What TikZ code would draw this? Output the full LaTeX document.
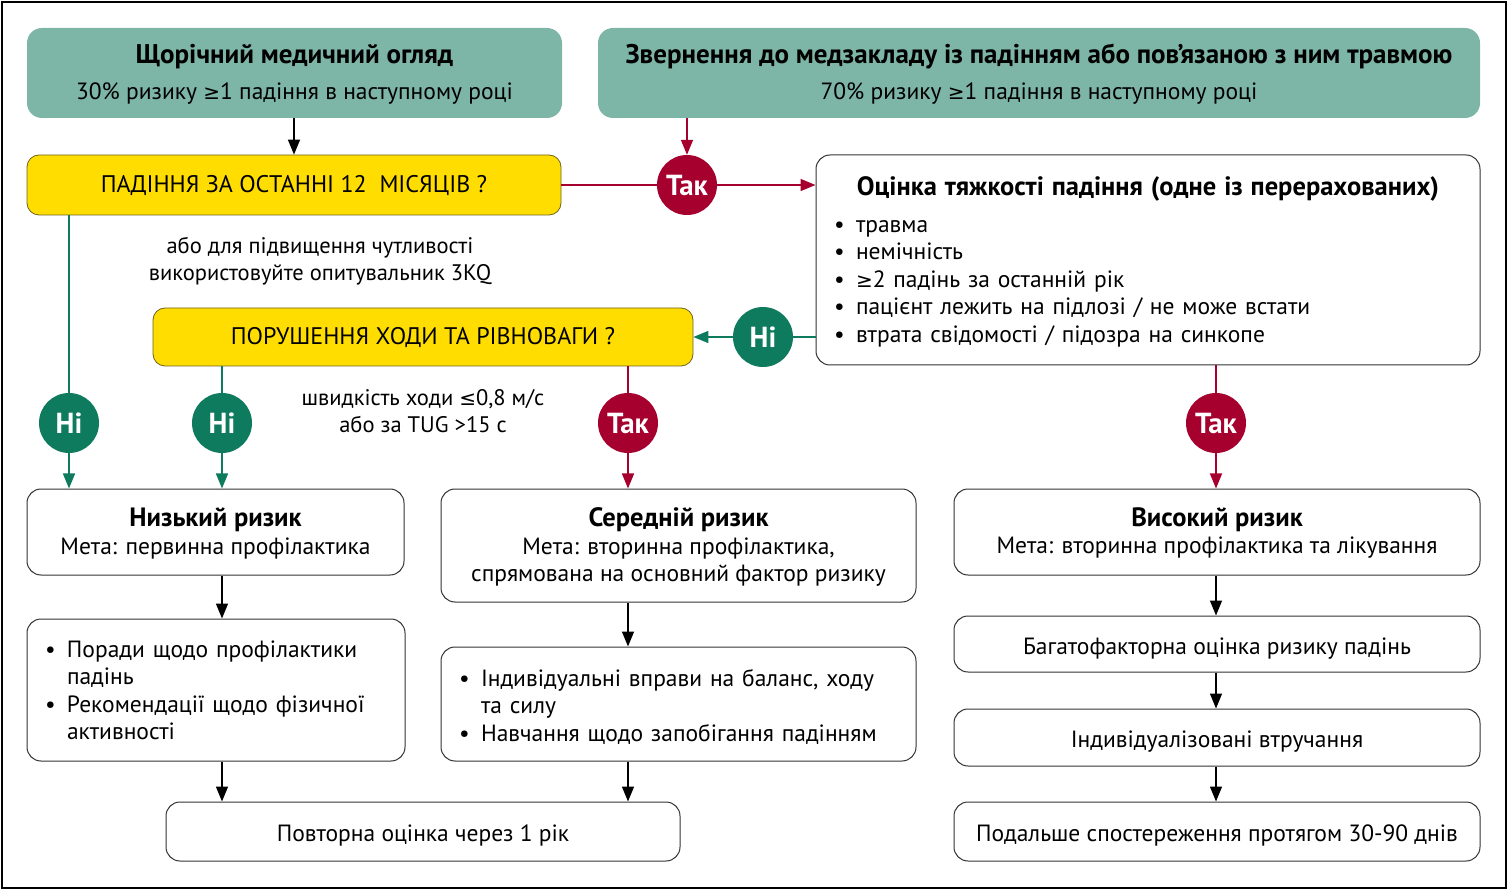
\documentclass[tikz,border=0pt]{standalone}
\usepackage{fontspec}
\setmainfont{PT Sans}
\newfontfamily\symf{DejaVu Sans}
\usetikzlibrary{arrows.meta,shapes.geometric}
\definecolor{tealc}{HTML}{7DB5A6}
\definecolor{yellowc}{HTML}{FFDD00}
\definecolor{yborder}{HTML}{6E6420}
\definecolor{redc}{HTML}{A5002E}
\definecolor{greenc}{HTML}{0E7A5E}
\definecolor{boxline}{HTML}{333333}
\newcommand{\gesym}{{\symf\fontsize{20}{20}\selectfont ≥}}
\newcommand{\lesym}{{\symf\fontsize{20}{20}\selectfont ≤}}
\newcommand{\bul}{\makebox[22pt][l]{•}}
\newcommand{\ind}{\hspace*{22pt}}
\newcommand{\ttlfont}{\bfseries\fontsize{26.5}{28}\selectfont}
\newcommand{\dnc}[2]{\raisebox{-#1}[\height][\depth]{\begin{tabular}{@{}c@{}}#2\end{tabular}}}
\newcommand{\dnl}[2]{\raisebox{-#1}[\height][\depth]{\begin{tabular}{@{}l@{}}#2\end{tabular}}}
\begin{document}
\begin{tikzpicture}[x=1pt,y=-1pt,
  font=\fontsize{23.5}{27.5}\selectfont,
  tealbox/.style={fill=tealc, rounded corners=15pt, align=center, inner sep=0pt},
  ybox/.style={fill=yellowc, draw=yborder, line width=0.8pt, rounded corners=12pt, align=center, inner sep=0pt, font=\fontsize{24}{27.5}\selectfont},
  wbox/.style={draw=boxline, line width=1pt, fill=white, rounded corners=14pt, align=center, inner sep=0pt},
  lbox/.style={wbox, align=left, inner xsep=18pt},
  circ/.style={circle, minimum size=60pt, inner sep=0pt, text=white, font=\bfseries\fontsize{29}{29}\selectfont},
  yes/.style={circ, fill=redc},
  no/.style={circ, fill=greenc},
  lnk/.style={line width=1.5pt},
  arr/.style={lnk, -{Triangle[width=12pt,length=15pt]}},
  plain/.style={align=center, inner sep=0pt, font=\fontsize{22.5}{27.5}\selectfont}
]
\useasboundingbox (0,0) rectangle (1508,890);
\draw[line width=2pt] (2,2) rectangle (1506,888);

% top boxes
\node[tealbox, minimum width=535pt, minimum height=90pt] (tl) at (294.5,73)
  {\dnc{3pt}{{\bfseries\fontsize{27}{28}\selectfont Щорічний медичний огляд}\\[8pt]30\% ризику \gesym1 падіння в наступному році}};
\node[tealbox, minimum width=882pt, minimum height=90pt] (tr) at (1039,73)
  {\dnc{3pt}{{\bfseries\fontsize{27}{28}\selectfont Звернення до медзакладу із падінням або пов’язаною з ним травмою}\\[8pt]70\% ризику \gesym1 падіння в наступному році}};

% decisions
\node[ybox, minimum width=534pt, minimum height=60pt] (y1) at (294,185) {\dnc{2pt}{ПАДІННЯ ЗА ОСТАННІ 12\ \ МІСЯЦІВ ?}};
\node[plain] (note1) at (320,261) {або для підвищення чутливості\\використовуйте опитувальник 3KQ};
\node[ybox, minimum width=540pt, minimum height=58pt] (y2) at (423,337) {\dnc{2pt}{ПОРУШЕННЯ ХОДИ ТА РІВНОВАГИ ?}};
\node[plain] (note2) at (423,411) {швидкість ходи \lesym0,8 м/с\\або за TUG >15 с};

% severity
\node[lbox, minimum width=664pt, minimum height=210pt, text width=628pt] (sev) at (1148,260)
  {\dnl{3.5pt}{\makebox[628pt]{\ttlfont Оцінка тяжкості падіння (одне із перерахованих)}\\[9pt]
   \bul травма\\ \bul немічність\\ \bul\gesym2 падінь за останній рік\\ \bul пацієнт лежить на підлозі / не може встати\\ \bul втрата свідомості / підозра на синкопе}};

% circles
\node[yes] (t1) at (687,185) {Так};
\node[no] (n1) at (763,337) {Ні};
\node[no] (n2) at (69,423) {Ні};
\node[no] (n3) at (222,423) {Ні};
\node[yes] (t2) at (628,423) {Так};
\node[yes] (t3) at (1216,423) {Так};

% risk boxes
\node[wbox, minimum width=377pt, minimum height=86pt] (low) at (215.5,532)
  {\dnc{3pt}{{\ttlfont Низький ризик}\\Мета: первинна профілактика}};
\node[lbox, minimum width=378pt, minimum height=142pt, text width=342pt] (lowl) at (216,690)
  {\dnl{3pt}{\bul Поради щодо профілактики\\ \ind падінь\\ \bul Рекомендації щодо фізичної\\ \ind активності}};
\node[wbox, minimum width=475pt, minimum height=113pt] (med) at (678.5,545.5)
  {\dnc{3pt}{{\ttlfont Середній ризик}\\Мета: вторинна профілактика,\\спрямована на основний фактор ризику}};
\node[lbox, minimum width=475pt, minimum height=114pt, text width=439pt] (medl) at (678.5,704)
  {\dnl{4pt}{\bul Індивідуальні вправи на баланс, ходу\\ \ind та силу\\ \bul Навчання щодо запобігання падінням}};
\node[wbox, minimum width=514pt, minimum height=59pt] (rep) at (423,831.5) {\dnc{4.5pt}{Повторна оцінка через 1 рік}};
\node[wbox, minimum width=526pt, minimum height=86pt] (high) at (1217,532)
  {\dnc{2.5pt}{{\ttlfont Високий ризик}\\Мета: вторинна профілактика та лікування}};
\node[wbox, minimum width=526pt, minimum height=56pt] (multi) at (1217,644) {\dnc{4.5pt}{Багатофакторна оцінка ризику падінь}};
\node[wbox, minimum width=526pt, minimum height=57pt] (indiv) at (1217,737.5) {\dnc{4.5pt}{Індивідуалізовані втручання}};
\node[wbox, minimum width=526pt, minimum height=59pt] (follow) at (1217,831.5) {\dnc{4pt}{Подальше спостереження протягом 30-90 днів}};

% connectors
\draw[arr] (tl.south -| y1) -- (y1.north);
\draw[arr, redc] (tr.south -| t1) -- (t1.north);
\draw[lnk, redc] (y1.east) -- (t1.west);
\draw[arr, redc] (t1.east) -- (sev.west |- t1);
\draw[lnk, greenc] (sev.west |- n1) -- (n1.east);
\draw[arr, greenc] (n1.west) -- (y2.east |- n1);
\draw[lnk, greenc] (y1.south -| n2) -- (n2.north);
\draw[arr, greenc] (n2.south) -- (low.north -| n2);
\draw[lnk, greenc] (y2.south -| n3) -- (n3.north);
\draw[arr, greenc] (n3.south) -- (low.north -| n3);
\draw[lnk, redc] (y2.south -| t2) -- (t2.north);
\draw[arr, redc] (t2.south) -- (med.north -| t2);
\draw[lnk, redc] (sev.south -| t3) -- (t3.north);
\draw[arr, redc] (t3.south) -- (high.north -| t3);
\draw[arr] (low.south -| n3) -- (lowl.north -| n3);
\draw[arr] (lowl.south -| n3) -- (rep.north -| n3);
\draw[arr] (med.south -| t2) -- (medl.north -| t2);
\draw[arr] (medl.south -| t2) -- (rep.north -| t2);
\draw[arr] (high.south -| t3) -- (multi.north -| t3);
\draw[arr] (multi.south -| t3) -- (indiv.north -| t3);
\draw[arr] (indiv.south -| t3) -- (follow.north -| t3);
\end{tikzpicture}
\end{document}
